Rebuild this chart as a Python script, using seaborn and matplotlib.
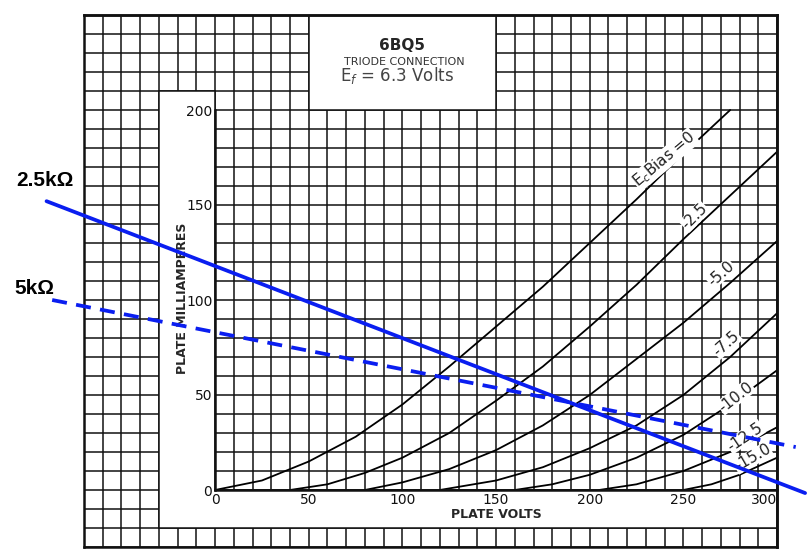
import numpy as np
import pandas as pd
import matplotlib
matplotlib.use("Agg")
import matplotlib.pyplot as plt
import seaborn as sns
from matplotlib.patches import Polygon, Rectangle

sns.set_style("white")
plt.rcParams['font.family'] = ['DejaVu Sans']

# plate curves (volts, mA) for each grid bias
bias_names = ['0', '-2.5', '-5.0', '-7.5', '-10.0', '-12.5', '-15.0']
volts_0 = [0, 25, 50, 75, 100, 125, 150, 175, 200, 225, 250, 275]
ma_0 = [0, 5, 15, 28, 45, 65, 86, 107, 130, 153, 177, 200]
volts_25 = [40, 60, 80, 100, 125, 150, 175, 200, 225, 250, 275, 300]
ma_25 = [0, 3, 9, 17, 30, 47, 65, 86, 108, 132, 155, 178]
volts_5 = [80, 100, 125, 150, 175, 200, 225, 250, 275, 300]
ma_5 = [0, 4, 11, 21, 34, 50, 69, 88, 109, 131]
volts_75 = [120, 150, 175, 200, 225, 250, 275, 300]
ma_75 = [0, 5, 12, 22, 34, 50, 70, 93]
volts_10 = [160, 180, 200, 225, 250, 275, 300]
ma_10 = [0, 3, 8, 17, 29, 45, 63]
volts_125 = [205, 225, 250, 275, 300]
ma_125 = [0, 3, 10, 20, 33]
volts_15 = [250, 265, 280, 300]
ma_15 = [0, 3, 8, 17]

# load lines drawn on top (endpoints as drawn)
load_25k_v = [-90, 315]
load_25k_ma = [152, -1.6]
load_5k_v = [-87, 310]
load_5k_ma = [100, 22.6]

x_ticks = [0, 50, 100, 150, 200, 250, 300]
y_ticks = [0, 50, 100, 150, 200]

# label positions along the curves
label_v = [240, 256, 270, 273, 278, 283, 287]
label_ma = [174, 144, 114, 77, 49, 28, 17]
label_rot = [40, 45, 42, 42, 38, 34, 30]

all_v = [volts_0, volts_25, volts_5, volts_75, volts_10, volts_125, volts_15]
all_ma = [ma_0, ma_25, ma_5, ma_75, ma_10, ma_125, ma_15]
curves = pd.concat([pd.DataFrame({'volts': v, 'ma': m, 'bias': b})
                    for v, m, b in zip(all_v, all_ma, bias_names)])

fig = plt.figure(figsize=(8.08, 5.59), dpi=100)
rect = [84 / 808, 12 / 559, 693 / 808, 532 / 559]

# background sheet: 10 V x 10 mA grid with blank areas
bg = fig.add_axes(rect)
bg.set_xlim(-70, 300)
bg.set_ylim(-30, 250)
bg.set_xticks(np.arange(-70, 301, 10))
bg.set_yticks(np.arange(-30, 251, 10))
bg.set_axisbelow(True)
bg.grid(color='#111111', lw=1.1)
bg.tick_params(length=0, labelbottom=False, labelleft=False)
for s in bg.spines.values():
    s.set_color('#111111')
    s.set_linewidth(1.8)
bg.add_patch(Polygon([(-30, 210), (0, 210), (0, 0), (300, 0), (300, -20), (-30, -20)],
                     closed=True, facecolor='white', edgecolor='#111111', lw=1.1, zorder=1))
bg.add_patch(Rectangle((50, 200), 100, 50, facecolor='white', edgecolor='#111111',
                       lw=1.1, zorder=1))

# plate characteristic axes on top
ax = fig.add_axes(rect, facecolor='none')
ax.set_xlim(-70, 300)
ax.set_ylim(-30, 250)
ax.set_xticks(x_ticks)
ax.set_yticks(y_ticks)
ax.tick_params(length=0, labelsize=10, colors='#111111')
ax.tick_params(axis='x', pad=2)
ax.tick_params(axis='y', pad=2)
ax.spines['left'].set_position(('data', 0))
ax.spines['bottom'].set_position(('data', 0))
ax.spines['left'].set_bounds(0, 200)
ax.spines['bottom'].set_bounds(0, 300)
for s in ax.spines.values():
    s.set_color('#111111')
    s.set_linewidth(1.8)
ax.get_xticklabels()[-1].set_ha('right')

sns.lineplot(data=curves, x='volts', y='ma', hue='bias', palette=['black'] * 7,
             estimator=None, sort=False, legend=False, lw=1.3, ax=ax, zorder=2)
ax.set_xlabel('')
ax.set_ylabel('')

for name, v, m, r in zip(bias_names, label_v, label_ma, label_rot):
    txt = r'E$_c$Bias =0' if name == '0' else name
    ax.text(v, m, txt, rotation=r, ha='center', va='center', fontsize=11,
            color='#222222', zorder=3,
            bbox=dict(facecolor='white', edgecolor='none', pad=0.3))

ax.text(150, -13, 'PLATE VOLTS', ha='center', va='center', fontsize=9,
        fontweight='bold', zorder=3)
ax.text(-17.5, 101, 'PLATE MILLIAMPERES', ha='center', va='center', rotation=90,
        fontsize=9, fontweight='bold', zorder=3)

ax.text(100, 234, '6BQ5', ha='center', va='center', fontsize=11, fontweight='bold', zorder=3)
ax.text(101, 225.5, 'TRIODE CONNECTION', ha='center', va='center', fontsize=8,
        color='#333333', zorder=3)
ax.text(97, 218, r'E$_f$ = 6.3 Volts', ha='center', va='center', fontsize=12,
        color='#444444', zorder=3)

blue = '#0a1ef0'
ax.plot(load_25k_v, load_25k_ma, color=blue, lw=2.7, clip_on=False, zorder=4)
ax.plot(load_5k_v, load_5k_ma, color=blue, lw=2.7, clip_on=False, zorder=4,
        linestyle=(0, (4, 2.5)))

fig.text(45 / 808, 1 - 180 / 559, '2.5kΩ', ha='center', va='center', fontsize=15,
         fontweight='bold', family='Liberation Sans', color='black')
fig.text(34 / 808, 1 - 288 / 559, '5kΩ', ha='center', va='center', fontsize=15,
         fontweight='bold', family='Liberation Sans', color='black')

fig.savefig('out.png', dpi=100, facecolor='white')
